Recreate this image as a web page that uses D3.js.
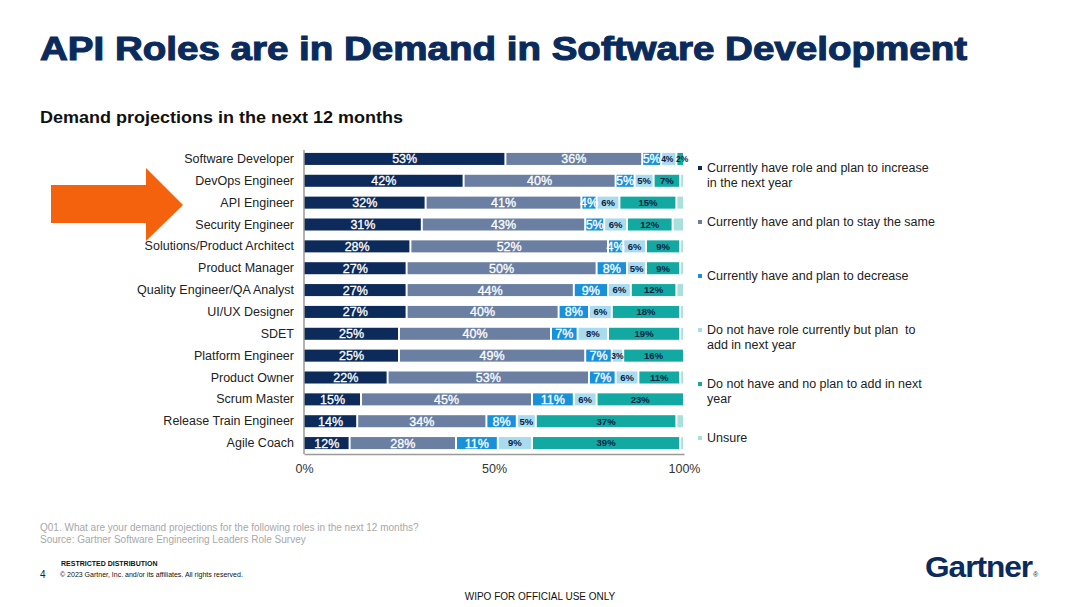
<!DOCTYPE html>
<html><head><meta charset="utf-8">
<script src="https://cdn.jsdelivr.net/npm/d3@7"></script>
<style>
html,body{margin:0;padding:0;background:#fff;}
svg{display:block;font-family:"Liberation Sans",Arial,sans-serif;}
</style></head>
<body><svg id="c" width="1080" height="607"></svg>
<script>
const roles = ["Software Developer","DevOps Engineer","API Engineer","Security Engineer","Solutions/Product Architect","Product Manager","Quality Engineer/QA Analyst","UI/UX Designer","SDET","Platform Engineer","Product Owner","Scrum Master","Release Train Engineer","Agile Coach"];
const increase = [53,42,32,31,28,27,27,27,25,25,22,15,14,12];
const stay     = [36,40,41,43,52,50,44,40,40,49,53,45,34,28];
const decrease = [5,5,4,5,4,8,9,8,7,7,7,11,8,11];
const planAdd  = [4,5,6,6,6,5,6,6,8,3,6,6,5,9];
const noPlan   = [2,7,15,12,9,9,12,18,19,16,11,23,37,39];
const unsure   = [0,1,2,3,1,1,2,1,1,0,1,0,2,1];
const seriesNames = ["Currently have role and plan to increase in the next year","Currently have and plan to stay the same","Currently have and plan to decrease","Do not have role currently but plan  to add in next year","Do not have and no plan to add in next year","Unsure"];
const tickValues = [0,50,100];

const seriesData = [increase,stay,decrease,planAdd,noPlan,unsure];
const colors = ["#0c2b5b","#6b7fa3","#1891da","#a8daf0","#12a9a2","#a9e0dc"];
const labelColors = ["#ffffff","#ffffff","#ffffff","#0c2140","#0c2140",null];

const svg = d3.select("#c");

// Title
svg.append("text").attr("x",40).attr("y",60).attr("fill","#0a2b5c")
  .attr("font-size",34).attr("font-weight","bold").attr("stroke","#0a2b5c").attr("stroke-width",1.1)
  .attr("textLength",927).attr("lengthAdjust","spacingAndGlyphs")
  .text("API Roles are in Demand in Software Development");
svg.append("text").attr("x",40).attr("y",123).attr("fill","#111")
  .attr("font-size",17).attr("font-weight","bold")
  .attr("textLength",363).attr("lengthAdjust","spacingAndGlyphs")
  .text("Demand projections in the next 12 months");

// Scales
const x = d3.scaleLinear().domain([0,100]).range([304,684]);
const y = d3.scaleBand().domain(roles).range([148,454]).paddingInner(0.45).paddingOuter(0.225);

// stacked data
const table = roles.map((r,i)=>{const o={role:r}; seriesData.forEach((s,k)=>o["s"+k]=s[i]); return o;});
const keys = seriesData.map((s,k)=>"s"+k);
const stacked = d3.stack().keys(keys)(table);

const g = svg.append("g");
stacked.forEach((layer,k)=>{
  const lg = g.append("g");
  lg.selectAll("rect").data(layer).join("rect")
    .attr("x",d=>x(d[0])+ (k>0?1:0))
    .attr("width",d=>Math.max(0,x(d[1])-x(d[0]) - (k>0?1:0) - 1))
    .attr("y",d=>y(d.data.role))
    .attr("height",y.bandwidth())
    .attr("fill",colors[k]);
});
stacked.forEach((layer,k)=>{
  if(!labelColors[k]) return;
  g.append("g").selectAll("text").data(layer.filter(d=>d[1]-d[0]>0)).join("text")
    .attr("x",d=>{
      let cx=(x(d[0])+x(d[1]))/2;
      // very narrow neighbouring labels: nudge apart slightly
      if(d[1]-d[0]<=2) cx += 2;
      if(k===3 && d.data.s4<=2) cx -= 1.5;
      return cx;})
    .attr("y",d=>y(d.data.role)+y.bandwidth()/2)
    .attr("dy","0.36em")
    .attr("text-anchor","middle")
    .attr("fill",labelColors[k])
    .attr("font-size",d=>k<3?12.5:((d[1]-d[0])<=4?8.5:9.5))
    .attr("font-weight",k<3?"normal":"bold")
    .attr("stroke",k<3?"#fff":"none").attr("stroke-width",k<3?0.3:0)
    .text(d=>(d[1]-d[0])+"%");
});

// Axes
const yAxis = svg.append("g").attr("transform","translate(304,0)").call(d3.axisLeft(y).tickSize(0).tickPadding(10));
yAxis.select(".domain").attr("stroke","#9a9a9a").attr("stroke-width",1.5).attr("d","M0,150V454");
yAxis.selectAll("text").attr("font-size",12.5).attr("fill","#222").attr("font-family","Liberation Sans, Arial, sans-serif");

const xAxis = svg.append("g").attr("transform","translate(0,454)").call(d3.axisBottom(x).tickValues(tickValues).tickSize(0).tickPadding(10).tickFormat(d=>d+"%"));
xAxis.select(".domain").attr("stroke","#9a9a9a").attr("stroke-width",1.5);
xAxis.selectAll("text").attr("font-size",12.5).attr("fill","#333").attr("font-family","Liberation Sans, Arial, sans-serif");

// Legend
const legendY = [[172,187],[226],[280],[334,349],[388,403],[442]];
const legendLines = [["Currently have role and plan to increase","in the next year"],["Currently have and plan to stay the same"],["Currently have and plan to decrease"],["Do not have role currently but plan  to","add in next year"],["Do not have and no plan to add in next","year"],["Unsure"]];
const lg = svg.append("g");
seriesNames.forEach((n,k)=>{
  lg.append("rect").attr("x",698).attr("y",legendY[k][0]-6).attr("width",4).attr("height",4).attr("fill",colors[k]);
  legendLines[k].forEach((t,j)=>{
    lg.append("text").attr("x",707).attr("y",legendY[k][j]).attr("font-size",12.5).attr("fill","#222")
      .attr("xml:space","preserve").style("white-space","pre").text(t);
  });
});

// Arrow
svg.append("path").attr("fill","#f4620e")
  .attr("d","M51,185 L146,185 L146,168 L183,205 L146,241 L146,223 L51,223 Z");

// Footer
svg.append("text").attr("x",40).attr("y",531).attr("font-size",10).attr("fill","#a8a8a8")
  .text("Q01. What are your demand projections for the following roles in the next 12 months?");
svg.append("text").attr("x",40).attr("y",543).attr("font-size",10).attr("fill","#a8a8a8")
  .text("Source: Gartner Software Engineering Leaders Role Survey");
svg.append("text").attr("x",61).attr("y",566).attr("font-size",7).attr("font-weight","bold").attr("fill","#111")
  .text("RESTRICTED DISTRIBUTION");
svg.append("text").attr("x",40).attr("y",578).attr("font-size",10).attr("fill","#222").text("4");
svg.append("text").attr("x",60).attr("y",577).attr("font-size",7).attr("fill","#111")
  .text("© 2023 Gartner, Inc. and/or its affiliates. All rights reserved.");
svg.append("text").attr("x",540).attr("y",600).attr("font-size",10).attr("fill","#111").attr("text-anchor","middle")
  .attr("font-family","Liberation Sans, Arial, sans-serif")
  .text("WIPO FOR OFFICIAL USE ONLY");
svg.append("text").attr("x",925).attr("y",577).attr("font-size",30).attr("font-weight","bold").attr("fill","#0a2b5c")
  .attr("textLength",107).attr("lengthAdjust","spacingAndGlyphs").attr("letter-spacing","-1")
  .text("Gartner");
svg.append("text").attr("x",1033).attr("y",577).attr("font-size",7).attr("fill","#0a2b5c").text("®");
</script>
</body></html>
